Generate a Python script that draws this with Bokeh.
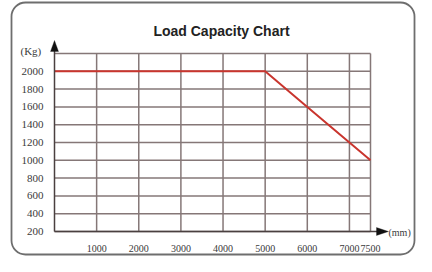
from bokeh.plotting import figure
from bokeh.models import (FixedTicker, Range1d, Label, PolyAnnotation,
                          BoxAnnotation, LinearAxis)
from bokeh.embed import file_html
from bokeh.resources import INLINE

# data
reach_mm = [0, 5000, 6000, 7000, 7500]
load_kg = [2000, 2000, 1600, 1200, 1000]
x_ticks = [1000, 2000, 3000, 4000, 5000, 6000, 7000, 7500]
y_ticks = [200, 400, 600, 800, 1000, 1200, 1400, 1600, 1800, 2000, 2200]
y_label_ticks = [200, 400, 600, 800, 1000, 1200, 1400, 1600, 1800, 2000]
title_text = "Load Capacity Chart"
y_unit = "(Kg)"
x_unit = "(mm)"

GRID = "#857777"
RED = "#c9352e"
W, H = 416, 256
X0, X1, Y0, Y1 = 0, 7500, 200, 2200
FL, FR, FT, FB = 54, 370, 53, 231  # plot-area edges in canvas px
SX = (X1 - X0) / (FR - FL)
SY = (Y1 - Y0) / (FB - FT)


def dx(cx):
    return X0 + (cx - FL) * SX


def dy(cy):
    return Y0 + (FB - cy) * SY


p = figure(width=W, height=H, output_backend="svg", toolbar_location=None,
           x_range=Range1d(dx(0), dx(W)), y_range=Range1d(dy(H), dy(0)),
           x_axis_location=None, y_axis_location=None,
           min_border=0, background_fill_color="white",
           border_fill_color="white", outline_line_color=None)
p.xgrid.visible = False
p.ygrid.visible = False

# grid lines drawn from tick arrays
p.segment(x0=x_ticks, x1=x_ticks, y0=[Y0] * len(x_ticks), y1=[Y1] * len(x_ticks),
          line_color=GRID, line_width=1.5)
p.segment(x0=[X0] * len(y_ticks), x1=[X1] * len(y_ticks), y0=y_ticks, y1=y_ticks,
          line_color=GRID, line_width=1.5)

p.line(reach_mm, load_kg, line_color=RED, line_width=2)

yax = LinearAxis(fixed_location=X0, ticker=FixedTicker(ticks=y_label_ticks),
                 bounds=(Y0, dy(48)))
xax = LinearAxis(fixed_location=Y0, ticker=FixedTicker(ticks=x_ticks),
                 bounds=(X0, dx(379)))
for ax in (xax, yax):
    ax.major_tick_line_color = None
    ax.minor_tick_line_color = None
    ax.axis_line_color = "#4a4040"
    ax.axis_line_width = 1.5
    ax.major_label_text_font = "Liberation Serif"
    ax.major_label_text_color = "#3a3a3a"
yax.major_label_text_font_size = "11px"
xax.major_label_text_font_size = "10px"
xax.major_label_standoff = 7
yax.major_label_standoff = 5
p.add_layout(yax, "left")
p.add_layout(xax, "below")

# axis arrow heads
p.add_layout(PolyAnnotation(xs=[dx(50), dx(58), dx(54)], ys=[dy(51), dy(51), dy(40)],
                            fill_color="#111111", fill_alpha=1, line_color="#111111"))
p.add_layout(PolyAnnotation(xs=[dx(376), dx(376), dx(388)], ys=[dy(227), dy(235), dy(231)],
                            fill_color="#111111", fill_alpha=1, line_color="#111111"))

p.add_layout(Label(x=dx(20), y=dy(44), text=y_unit,
                   text_font="Liberation Serif", text_font_size="11px",
                   text_color="#3a3a3a", text_baseline="top"))
p.add_layout(Label(x=dx(388), y=dy(226), text=x_unit,
                   text_font="Liberation Serif", text_font_size="10px",
                   text_color="#3a3a3a", text_baseline="top"))
p.add_layout(Label(x=dx(221), y=dy(22), text=title_text,
                   text_font="Liberation Sans", text_font_style="bold",
                   text_font_size="14px", text_color="#222222",
                   text_align="center", text_baseline="top"))

p.add_layout(BoxAnnotation(left=dx(11), right=dx(414), top=dy(2), bottom=dy(254),
                           fill_alpha=0, line_color="#6e6e6e", line_alpha=1,
                           line_width=1.8, border_radius=14))

open("out.html", "w").write(file_html(p, INLINE))
